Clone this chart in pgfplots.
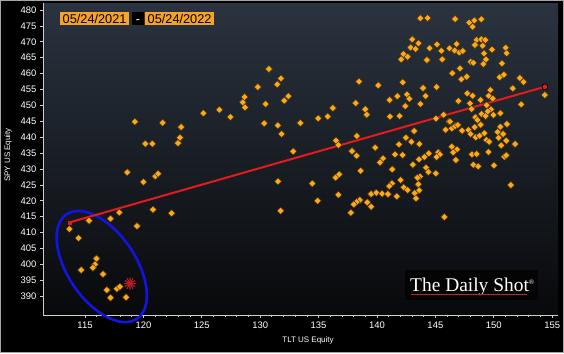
\documentclass[border=0pt]{standalone}
\usepackage{fontspec}
\setmainfont{Liberation Sans}
\newfontfamily\serifwm{Liberation Serif}
\usepackage{pgfplots}
\usepackage{pgfplotstable}
\pgfplotsset{compat=1.18}
\definecolor{bgtop}{RGB}{42,51,63}
\definecolor{bgbot}{RGB}{8,9,11}
\definecolor{dot}{RGB}{250,168,28}
\definecolor{dotedge}{RGB}{70,45,5}
\definecolor{boxor}{RGB}{247,163,37}
\definecolor{regred}{RGB}{228,26,28}
\definecolor{starred}{RGB}{190,30,35}
\definecolor{ellblue}{RGB}{20,20,225}
\definecolor{axgray}{RGB}{205,205,205}
\definecolor{wmred}{RGB}{200,30,40}
\definecolor{wmbox}{RGB}{4,4,5}

\pgfplotstableread{
x y
113.66 411.13
114.44 408.30
115.34 413.74
117.18 414.43
117.94 416.32
119.45 412.08
120.82 417.20
122.41 416.07
114.66 398.24
115.98 401.86
115.86 400.03
115.68 398.96
116.54 396.98
116.87 391.95
117.72 392.36
117.98 392.99
117.18 389.53
118.51 389.69
118.62 428.96
119.99 425.91
121.02 427.70
121.25 428.52
119.26 444.87
120.16 437.96
120.76 437.96
121.65 444.56
123.22 443.21
123.13 439.84
122.96 438.18
125.13 447.52
126.50 448.65
127.44 446.35
128.67 452.64
128.50 450.97
128.70 449.40
129.79 455.79
130.75 461.45
131.78 458.52
131.46 456.64
130.47 450.44
132.41 452.86
132.06 451.48
130.35 444.37
131.50 443.74
131.84 441.01
133.43 444.47
134.97 445.94
135.78 446.51
132.83 435.57
131.52 426.13
131.75 416.89
134.46 425.44
134.91 420.03
136.23 449.18
136.49 438.90
136.69 437.55
136.45 427.33
136.77 428.33
136.69 421.92
143.71 477.39
144.34 477.48
143.02 470.79
143.55 469.53
142.87 468.21
143.31 467.74
142.25 466.16
142.63 465.31
142.08 464.50
144.28 464.28
145.14 469.21
144.51 467.96
145.51 467.20
145.59 464.50
146.21 467.96
138.46 457.45
140.11 456.32
142.20 457.26
143.94 455.47
145.11 455.79
141.74 452.86
142.57 453.49
142.77 452.11
144.17 452.96
141.09 451.70
143.71 450.44
142.42 449.81
138.18 450.75
139.00 448.77
139.12 447.08
141.11 446.45
141.94 446.67
145.05 445.82
145.71 447.08
145.88 442.36
146.16 444.94
143.17 441.95
142.48 439.84
142.94 438.58
141.88 437.77
143.62 437.86
138.27 440.38
139.85 436.70
137.86 435.66
138.26 434.18
141.54 434.62
142.20 434.40
140.51 433.36
140.26 432.11
143.08 431.35
143.60 433.05
144.05 433.77
144.43 434.94
145.25 435.25
145.39 434.56
145.10 433.77
141.31 429.91
138.60 429.47
144.20 430.41
144.39 429.06
145.03 428.65
143.68 427.58
143.45 427.26
142.03 426.54
141.28 425.50
141.05 424.65
143.54 425.19
142.29 424.25
142.63 423.40
143.62 423.30
143.23 422.45
143.34 420.79
139.49 422.14
139.94 422.55
140.43 422.23
140.94 422.14
141.69 421.42
138.54 420.25
138.26 419.62
138.01 418.90
137.77 416.26
139.17 419.53
139.49 418.14
145.76 414.91
146.68 477.17
147.90 476.01
148.33 476.70
148.19 474.75
148.93 477.08
148.54 470.57
148.93 470.79
149.27 470.57
146.82 469.31
146.64 467.26
147.06 466.64
147.36 467.11
148.39 469.00
149.05 468.77
149.85 467.52
151.02 468.14
151.10 466.38
149.16 466.38
149.33 464.50
149.10 463.02
148.02 463.74
148.25 463.43
150.70 463.24
146.45 460.09
147.11 461.67
147.22 458.21
147.68 459.03
150.50 458.84
150.87 459.65
152.24 458.62
152.56 457.36
151.62 455.38
149.70 454.84
147.73 453.81
148.19 453.05
146.96 451.38
148.88 451.70
149.56 453.05
149.91 452.11
147.96 450.66
152.35 450.35
154.38 453.27
149.39 450.03
149.76 448.77
150.56 447.52
149.96 446.98
148.11 448.87
148.96 447.30
149.31 446.67
149.48 448.14
148.42 446.26
148.59 445.41
146.25 444.87
146.40 442.80
146.68 443.52
146.93 443.84
147.28 442.04
147.82 442.26
148.36 443.11
148.88 443.93
148.02 441.01
148.45 439.97
148.78 440.47
149.19 441.23
150.56 443.30
151.13 444.15
150.33 441.64
150.79 441.01
150.42 439.84
149.36 439.12
149.61 438.58
151.07 438.90
151.82 437.86
150.64 437.45
146.40 437.01
146.85 436.20
146.53 435.25
146.76 432.83
148.13 434.62
148.54 434.72
149.53 435.35
150.90 433.87
151.07 434.31
148.25 431.35
148.67 430.85
150.02 431.16
151.47 424.97
}\pts

\begin{document}
\begin{tikzpicture}[x=1bp,y=1bp]
\useasboundingbox (0,0) rectangle (564,353);
\fill[black] (0,0) rectangle (564,353);
\begin{axis}[
  at={(43bp,38bp)}, anchor=south west, scale only axis,
  width=515bp, height=312bp,
  xmin=111.4, xmax=155.5, ymin=384.1, ymax=482.2,
  axis background/.style={top color=bgtop, bottom color=bgbot},
  axis x line*=bottom, axis y line*=left,
  axis line style={-, axgray, line width=0.8bp},
  xtick={115,120,...,155}, ytick={390,395,...,480},
  minor x tick num=4,
  tick align=outside, major tick length=3bp, minor tick length=1.5bp,
  tick style={axgray, line width=0.8bp},
  ticklabel style={white, font=\fontsize{9.5}{10}\selectfont},
  /pgf/number format/assume math mode=true,
  clip=false,
]
\draw[ellblue, line width=2.6bp, rotate around={-56:(axis cs:116.43,399.34)}] (axis cs:116.43,399.34) ellipse [x radius=63bp, y radius=34bp];
\addplot[only marks, mark=square*, mark size=2.5bp, mark options={rotate=45, fill=dot, draw=dotedge, line width=0.4bp}] table[x=x,y=y] {\pts};
\addplot[regred, line width=2bp] coordinates {(113.66,413.2) (154.38,455.87)};
\addplot[only marks, mark=square*, mark size=1.5bp, mark options={fill=regred, draw=regred}] coordinates {(113.66,413.2)};
\addplot[only marks, mark=*, mark size=3bp, mark options={fill=regred, draw=black, line width=0.8bp}] coordinates {(154.38,455.87)};
\addplot[only marks, mark=asterisk, mark size=6bp, mark options={draw=starred, line width=1.1bp}] coordinates {(118.85,394.0)};
\addplot[only marks, mark=asterisk, mark size=6bp, mark options={rotate=30, draw=starred, line width=1.1bp}] coordinates {(118.85,394.0)};
\end{axis}
% date range boxes
\node[fill=boxor, text=black, inner xsep=2.5bp, inner ysep=1.6bp, text height=9.3bp, text depth=0.4bp, anchor=north west, font=\fontsize{12.8}{13}\selectfont] at (60,341) {05/24/2021};
\node[fill=black, text=white, inner xsep=0bp, inner ysep=1.6bp, text height=9.3bp, text depth=0.4bp, minimum width=12.3bp, anchor=north west, font=\fontsize{12.8}{13}\selectfont] at (131.7,341) {-};
\node[fill=boxor, text=black, inner xsep=2.5bp, inner ysep=1.6bp, text height=9.3bp, text depth=0.4bp, anchor=north west, font=\fontsize{12.8}{13}\selectfont] at (145,341) {05/24/2022};
% axis titles
\node[white, font=\fontsize{8}{9}\selectfont] at (308,13) {TLT US Equity};
\node[white, rotate=90, font=\fontsize{8}{9}\selectfont] at (8,198) {SPY US Equity};
% watermark
\fill[wmbox] (405,53) rectangle (538,83);
\node[anchor=base west, inner sep=0pt, text=white, font=\serifwm\fontsize{19.5}{20}\selectfont] at (410,61.3) {The Daily Shot\raisebox{7bp}{\fontsize{7}{7}\selectfont ®}};
\draw[wmred, line width=1bp] (411,58.3) -- (527,58.3);
% frame
\draw[gray!70, line width=1bp] (0.5,0.5) rectangle (563.5,352.5);
\end{tikzpicture}
\end{document}
